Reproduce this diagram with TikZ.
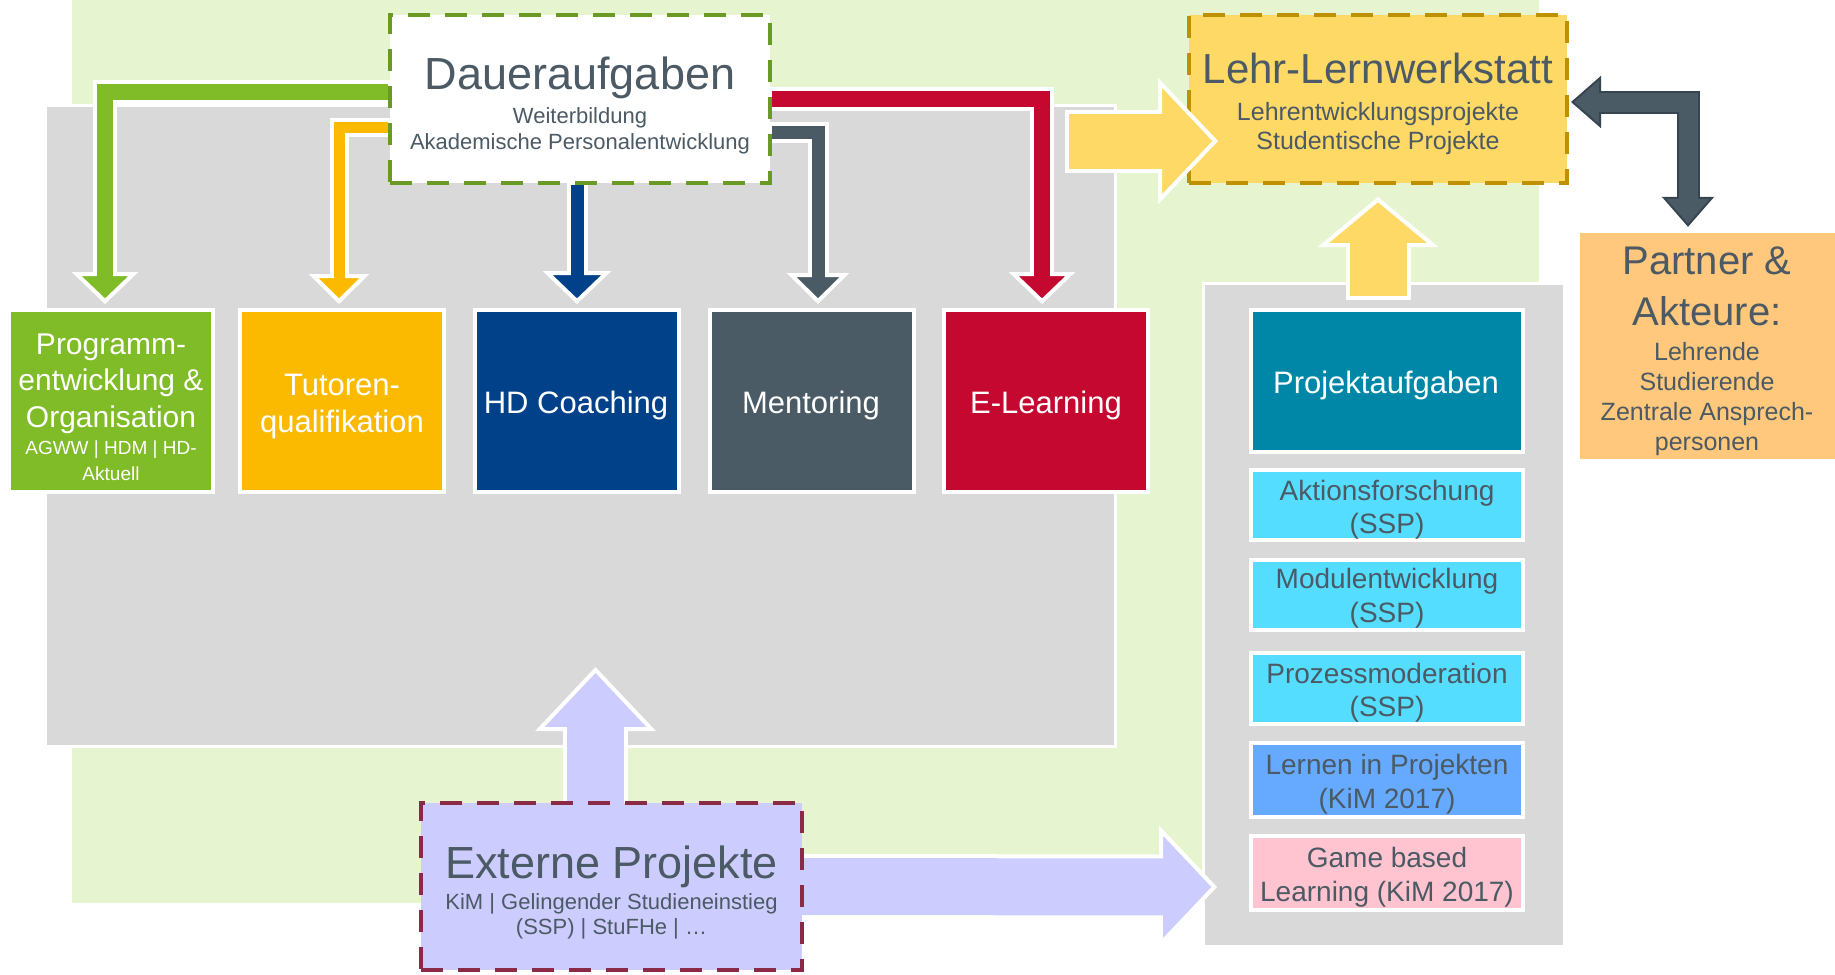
\documentclass[tikz,border=0pt]{standalone}
\usepackage{fontspec}
\setmainfont{Liberation Sans}
\usetikzlibrary{arrows.meta,calc}
\pgfdeclarelayer{bglayer}
\pgfdeclarelayer{arrowlayer}
\pgfdeclarelayer{frontlayer}
\pgfsetlayers{bglayer,arrowlayer,main,frontlayer}

\definecolor{bggreen}{HTML}{E6F5D0}
\definecolor{panelgray}{HTML}{D9D9D9}
\definecolor{txtgray}{HTML}{4B5A64}
\definecolor{cgreen}{HTML}{80BC28}
\definecolor{cyellow}{HTML}{FBBA00}
\definecolor{cblue}{HTML}{00418A}
\definecolor{cslate}{HTML}{4A5B66}
\definecolor{cslatedark}{HTML}{36454F}
\definecolor{cred}{HTML}{C5082F}
\definecolor{dauerborder}{HTML}{6A9A24}
\definecolor{lehrfill}{HTML}{FFD966}
\definecolor{lehrborder}{HTML}{BF9000}
\definecolor{partnerfill}{HTML}{FFC87C}
\definecolor{cteal}{HTML}{0087A8}
\definecolor{ccyan}{HTML}{55DDFF}
\definecolor{cskyblue}{HTML}{66AAFF}
\definecolor{cpink}{HTML}{FFC4D0}
\definecolor{clavender}{HTML}{CCCCFF}
\definecolor{extborder}{HTML}{8B2A47}

\tikzset{
  panel/.style={fill=panelgray, draw=white, line width=3pt, inner sep=0pt},
  colbox/.style={fill=#1, draw=white, line width=4pt, inner sep=0pt, minimum width=204pt, minimum height=182pt},
  subbox/.style={fill=#1, draw=white, line width=4pt, inner sep=0pt, minimum width=272pt},
  dashbox/.style 2 args={fill=#1, draw=#2, line width=4pt, dash pattern=on 22pt off 15pt, inner sep=0pt},
  txt/.style={anchor=base, text=txtgray, inner sep=0pt, font=\fontsize{#1}{#1}\selectfont},
  wtxt/.style={anchor=base, text=white, inner sep=0pt, font=\fontsize{#1}{#1}\selectfont},
  flow/.style args={#1/#2/#3/#4/#5/#6}{draw=white, line width=#3, shorten <=-4pt,
    -{Triangle[width=#4,length=#5,line width=4pt,color=white,fill=#1]},
    postaction={draw=#1, line width=#2, -, shorten <=0pt, shorten >=#6}},
}

\begin{document}
\begin{tikzpicture}[x=1pt,y=-1pt]
\useasboundingbox (0,0) rectangle (1835,974);

\begin{pgfonlayer}{bglayer}
\fill[white] (0,0) rectangle (1835,974);
\node[fill=bggreen, inner sep=0pt, minimum width=1467pt, minimum height=903pt] (greenbg) at (805.5,451.5) {};
\node[panel, minimum width=1070pt, minimum height=641pt] (leftpanel) at (580.5,426) {};
\node[panel, minimum width=361pt, minimum height=663pt] (projpanel) at (1384,615) {};
\end{pgfonlayer}

% boxes
\node[dashbox={white}{dauerborder}, minimum width=380pt, minimum height=168pt] (dauer) at (580,99) {};
\node[dashbox={lehrfill}{lehrborder}, minimum width=378pt, minimum height=168pt] (lehr) at (1378,99) {};
\node[dashbox={clavender}{extborder}, minimum width=381pt, minimum height=167pt] (ext) at (611.5,886.5) {};
\node[fill=partnerfill, inner sep=0pt, minimum width=255pt, minimum height=226pt] (partner) at (1707.5,346) {};

\node[colbox=cgreen] (prog) at (111,401) {};
\node[colbox=cyellow] (tut) at (342,401) {};
\node[colbox=cblue] (hd) at (577,401) {};
\node[colbox=cslate] (ment) at (812,401) {};
\node[colbox=cred] (elearn) at (1046,401) {};

\node[subbox=cteal, minimum height=142pt] (proj) at (1386.5,381) {};
\node[subbox=ccyan, minimum height=70pt] (akt) at (1387,505) {};
\node[subbox=ccyan, minimum height=70pt] (modul) at (1387,595) {};
\node[subbox=ccyan, minimum height=71pt] (proz) at (1387,688.5) {};
\node[subbox=cskyblue, minimum height=74pt] (lern) at (1387,780) {};
\node[subbox=cpink, minimum height=74pt] (game) at (1387,873) {};

% texts
\node[txt=45] (dauerA) at (580,89) {Daueraufgaben};
\node[txt=22] (dauerB) at (580,123) {Weiterbildung};
\node[txt=22] (dauerC) at (580,149) {Akademische Personalentwicklung};

\node[txt=42] (lehrA) at (1378,83) {Lehr-Lernwerkstatt};
\node[txt=25] (lehrB) at (1378,120) {Lehrentwicklungsprojekte};
\node[txt=25] (lehrC) at (1378,149) {Studentische Projekte};

\node[txt=45] (extA) at (611.5,878) {Externe Projekte};
\node[txt=22] (extB) at (611.5,909) {KiM | Gelingender Studieneinstieg};
\node[txt=22] (extC) at (611.5,934) {(SSP) | StuFHe | …};

\node[txt=40] (partA) at (1707,274) {Partner \&};
\node[txt=40] (partB) at (1707,325) {Akteure:};
\node[txt=25] (partC) at (1707,360) {Lehrende};
\node[txt=25] (partD) at (1707,390) {Studierende};
\node[txt=25] (partE) at (1707,420) {Zentrale Ansprech-};
\node[txt=25] (partF) at (1707,450) {personen};

\node[wtxt=30] (progA) at (111,354) {Programm-};
\node[wtxt=30] (progB) at (111,390) {entwicklung \&};
\node[wtxt=30] (progC) at (111,427) {Organisation};
\node[wtxt=19] (progD) at (111,454) {AGWW | HDM | HD-};
\node[wtxt=19] (progE) at (111,480) {Aktuell};

\node[wtxt=31] (tutA) at (342,395) {Tutoren-};
\node[wtxt=31] (tutB) at (342,432) {qualifikation};
\node[wtxt=31] (hdA) at (576,413) {HD Coaching};
\node[wtxt=31] (mentA) at (811,413) {Mentoring};
\node[wtxt=31] (elA) at (1046,413) {E-Learning};
\node[wtxt=31] (projA) at (1386,393) {Projektaufgaben};

\node[txt=28] (aktA) at (1387,500) {Aktionsforschung};
\node[txt=28] (aktB) at (1387,533) {(SSP)};
\node[txt=28] (modA) at (1387,588) {Modulentwicklung};
\node[txt=28] (modB) at (1387,622) {(SSP)};
\node[txt=28] (prozA) at (1387,683) {Prozessmoderation};
\node[txt=28] (prozB) at (1387,716) {(SSP)};
\node[txt=28] (lernA) at (1387,774) {Lernen in Projekten};
\node[txt=28] (lernB) at (1387,808) {(KiM 2017)};
\node[txt=28] (gameA) at (1387,867) {Game based};
\node[txt=28] (gameB) at (1387,901) {Learning (KiM 2017)};

\coordinate (ystart) at (1069,141);
\coordinate (lavtip) at (595.5,667);

\begin{pgfonlayer}{arrowlayer}
\draw[flow=cgreen/16pt/24pt/66pt/32pt/16pt] (dauer.west |- 0,92) -| ([xshift=-6pt,yshift=4pt]prog.north);
\draw[flow=cyellow/11pt/19pt/60pt/30pt/15pt] (dauer.west |- 0,127) -| ([xshift=-3pt,yshift=4pt]tut.north);
\draw[flow=cblue/13pt/21pt/68pt/33pt/16pt] (dauer.south -| hd.north) -- ([yshift=4pt]hd.north);
\draw[flow=cslate/13pt/21pt/62pt/31pt/15pt] (dauer.east |- 0,132) -| ([xshift=6pt,yshift=4pt]ment.north);
\draw[flow=cred/16pt/24pt/66pt/32pt/16pt] (dauer.east |- 0,99) -| ([xshift=-4pt,yshift=4pt]elearn.north);
\draw[flow=clavender/57pt/65pt/120pt/64pt/45pt] ($(ext.north)+(-16,6)$) -- (lavtip);
\draw[flow=clavender/57pt/65pt/122pt/58pt/42pt] ($(ext.east)+(-6,0)$) -- ($(projpanel.west)+(15,272)$);
\end{pgfonlayer}

\begin{pgfonlayer}{frontlayer}
\draw[flow=lehrfill/55pt/63pt/126pt/60pt/40pt] (ystart) -- ($(lehr.west)+(31,42)$);
\draw[flow=lehrfill/57pt/65pt/120pt/50pt/36pt] ($(projpanel.north)+(-6,14)$) -- ($(lehr.south)+(0,12)$);
\draw[draw=cslatedark, line width=23pt,
  {Triangle[width=52pt,length=30pt,line width=2pt,color=cslatedark,fill=cslate]}-{Triangle[width=52pt,length=30pt,line width=2pt,color=cslatedark,fill=cslate]},
  postaction={draw=cslate, line width=19pt, -, shorten <=14pt, shorten >=14pt}]
  ($(lehr.east)+(2,3)$) -| ($(partner.north)+(-19.5,-6)$);
\end{pgfonlayer}
\end{tikzpicture}
\end{document}
